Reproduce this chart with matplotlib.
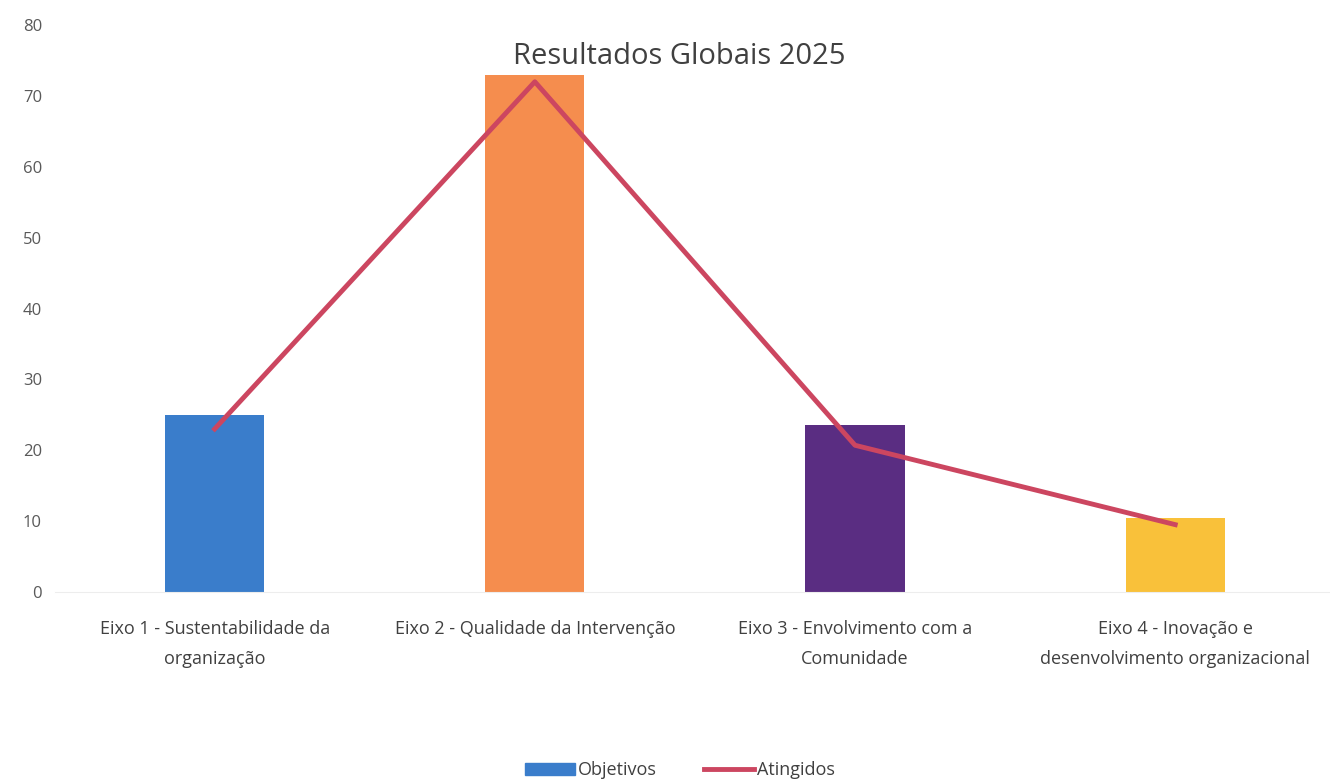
import matplotlib
matplotlib.use("Agg")
from matplotlib import pyplot as plt
from matplotlib.patches import Patch
from matplotlib.lines import Line2D

categorias = ["Eixo 1 - Sustentabilidade da\norganização",
              "Eixo 2 - Qualidade da Intervenção",
              "Eixo 3 - Envolvimento com a\nComunidade",
              "Eixo 4 - Inovação e\ndesenvolvimento organizacional"]
objetivos = [25, 73, 23.6, 10.4]
atingidos = [23, 72, 20.7, 9.5]
cores = ["#3A7DCB", "#F58D4E", "#5A2D82", "#F9C13A"]

plt.rcParams['font.family'] = ['Liberation Sans Narrow', 'Open Sans', 'DejaVu Sans']

fig = plt.figure(figsize=(13.3, 7.83), dpi=100)
ax = fig.add_axes([0.041, 0.244, 0.963, 0.724])

xs = list(range(len(categorias)))
ax.bar(xs, objetivos, width=0.31, color=cores, zorder=2)
ax.plot(xs, atingidos, color="#CC4660", linewidth=3.5, zorder=3)

ax.set_xlim(-0.5, 3.5)
ax.set_ylim(0, 80)
ax.set_yticks(range(0, 81, 10))
ax.set_xticks(xs)
ax.set_xticklabels(categorias, fontsize=13, color="#404040", ha="center",
                   multialignment="center", linespacing=1.85)
ax.tick_params(axis="y", length=0, labelsize=12, labelcolor="#595959", pad=9)
ax.tick_params(axis="x", length=0, pad=20)
for s in ["top", "right", "left"]:
    ax.spines[s].set_visible(False)
ax.spines["bottom"].set_color("#EDEDED")

fig.text(0.511, 0.928, "Resultados Globais 2025", ha="center", va="center", fontsize=21, color="#404040")

handles = [Patch(color=cores[0], label="Objetivos"),
           Line2D([0], [0], color="#CC4660", linewidth=3.5, label="Atingidos")]
fig.legend(handles=handles, loc="center", bbox_to_anchor=(0.511, 0.016), ncol=2, frameon=False,
           fontsize=13, handlelength=2.8, handletextpad=0.15, columnspacing=2.6,
           labelcolor="#404040")

fig.savefig("out.png", dpi=100, facecolor="white")
